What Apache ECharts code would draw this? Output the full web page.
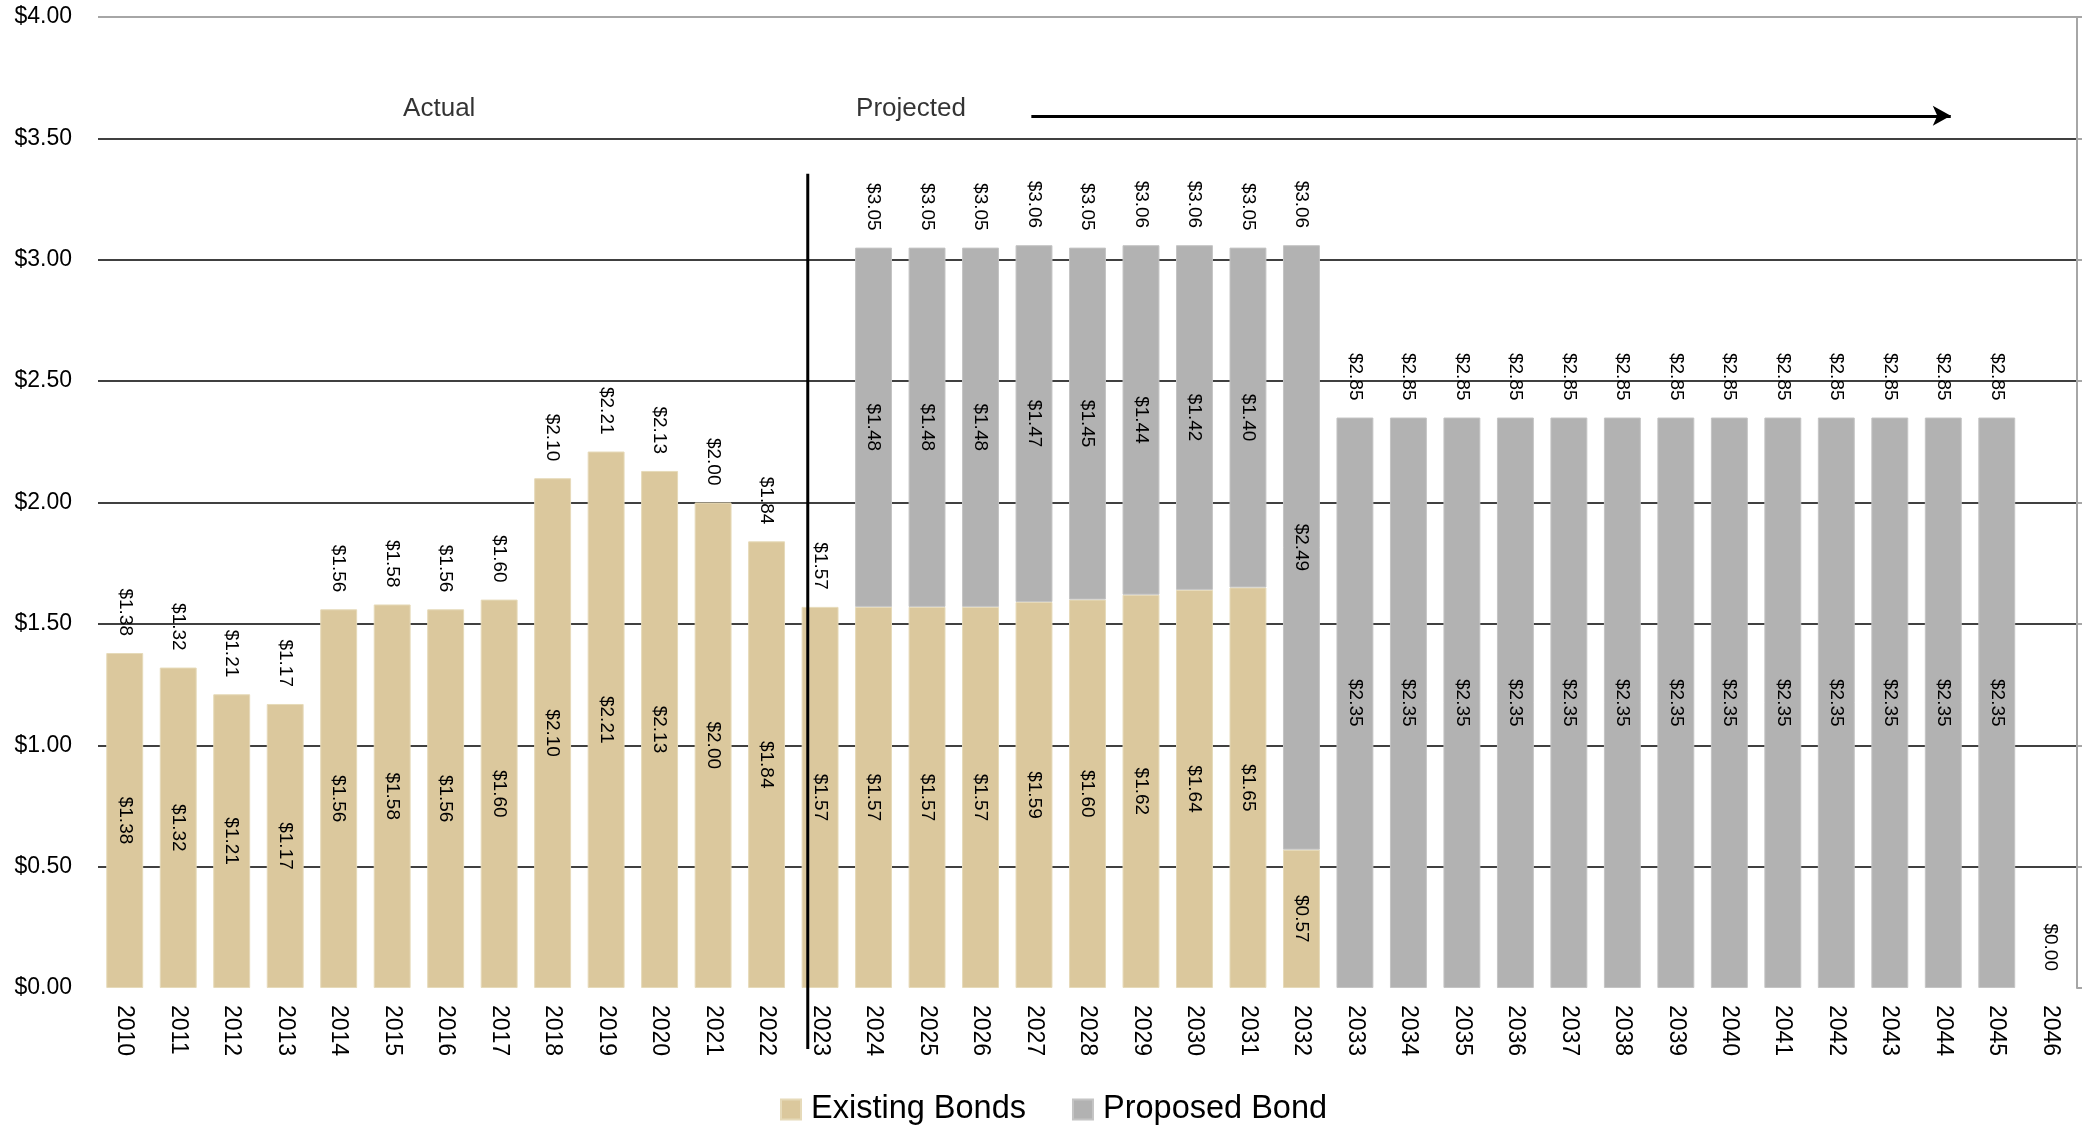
<!DOCTYPE html>
<html>
<head>
<meta charset="utf-8">
<script src="https://cdn.jsdelivr.net/npm/echarts@6/dist/echarts.min.js"></script>
<style>
html,body{margin:0;padding:0;background:#fff;}
#chart{width:2091px;height:1125px;}
</style>
</head>
<body>
<div id="chart"></div>
<script>
var years = ['2010','2011','2012','2013','2014','2015','2016','2017','2018','2019','2020','2021','2022','2023','2024','2025','2026','2027','2028','2029','2030','2031','2032','2033','2034','2035','2036','2037','2038','2039','2040','2041','2042','2043','2044','2045','2046'];
var existingBonds = [1.38,1.32,1.21,1.17,1.56,1.58,1.56,1.60,2.10,2.21,2.13,2.00,1.84,1.57,1.57,1.57,1.57,1.59,1.60,1.62,1.64,1.65,0.57,null,null,null,null,null,null,null,null,null,null,null,null,null,null];
var proposedBond = [null,null,null,null,null,null,null,null,null,null,null,null,null,null,1.48,1.48,1.48,1.47,1.45,1.44,1.42,1.40,2.49,2.35,2.35,2.35,2.35,2.35,2.35,2.35,2.35,2.35,2.35,2.35,2.35,2.35,null];
var totalLabels = [1.38,1.32,1.21,1.17,1.56,1.58,1.56,1.60,2.10,2.21,2.13,2.00,1.84,1.57,3.05,3.05,3.05,3.06,3.05,3.06,3.06,3.05,3.06,2.85,2.85,2.85,2.85,2.85,2.85,2.85,2.85,2.85,2.85,2.85,2.85,2.85,0.00];
var totalBase = years.map(function(){ return 0; });
var annotTexts = ['Actual','Projected'];
var annotX = [6.38, 15.2];
var annotY = [3.62, 3.62];
var dividerLine = [[13.27, 3.354], [13.27, -0.251]];
var arrowFrom = [17.45, 3.593];
var arrowTo = [34.64, 3.593];

var FONT = "'Liberation Sans', Arial, sans-serif";
function money(v){ return '$' + Number(v).toFixed(2); }

var chart = echarts.init(document.getElementById('chart'), null, {renderer:'canvas'});
var option = {
  animation: false,
  backgroundColor: '#ffffff',
  textStyle: {fontFamily: FONT, color: '#000'},
  grid: {left: 98, right: 14, top: 17, bottom: 137, containLabel: false},
  legend: {
    data: ['Existing Bonds', 'Proposed Bond'],
    left: 775, top: 1088,
    icon: 'rect', itemWidth: 20, itemHeight: 20, itemGap: 46,
    textStyle: {fontFamily: FONT, fontSize: 32.5, color: '#000', padding: [0,0,0,5]}
  },
  xAxis: [{
    type: 'category', data: years,
    axisLine: {show: false}, axisTick: {show: false},
    axisLabel: {rotate: -90, fontSize: 23, color: '#000', margin: 17, fontFamily: FONT, interval: 0}
  }, {
    type: 'value', min: 0, max: 37, show: false
  }],
  yAxis: [{
    type: 'value', min: 0, max: 4, interval: 0.5,
    axisLine: {show: false}, axisTick: {show: false},
    axisLabel: {formatter: money, fontSize: 23, color: '#000', margin: 26, fontFamily: FONT},
    splitLine: {show: true, showMinLine: false, lineStyle: {color: ['#404040','#404040','#404040','#404040','#404040','#404040','#404040','#a6a6a6'], width: 2}}
  }, {
    type: 'value', min: 0, max: 4, interval: 0.5, position: 'right',
    axisLine: {show: true, lineStyle: {color: '#a6a6a6', width: 2}},
    axisTick: {show: true, inside: false, length: 5, lineStyle: {color: '#a6a6a6', width: 2}},
    axisLabel: {show: false}, splitLine: {show: false}
  }],
  series: [{
    name: 'Existing Bonds', type: 'bar', stack: 'a', data: existingBonds,
    barCategoryGap: '31%',
    itemStyle: {color: '#DBC89D', borderColor: '#E6DAB9', borderWidth: 1},
    label: {show: true, position: 'inside', rotate: -90, fontSize: 19, color: '#000', fontFamily: FONT,
      formatter: function(p){ return p.value == null ? '' : money(p.value); }}
  }, {
    name: 'Proposed Bond', type: 'bar', stack: 'a', data: proposedBond,
    itemStyle: {color: '#B2B2B2', borderColor: '#C4C4C4', borderWidth: 1},
    label: {show: true, position: 'inside', rotate: -90, fontSize: 19, color: '#000', fontFamily: FONT,
      formatter: function(p){ return p.value == null ? '' : money(p.value); }}
  }, {
    name: 'Total', type: 'bar', stack: 'a', data: totalBase,
    itemStyle: {color: 'rgba(0,0,0,0)'},
    label: {show: true, position: 'top', rotate: -90, align: 'right', verticalAlign: 'middle', distance: 17,
      fontSize: 19, color: '#000', fontFamily: FONT,
      formatter: function(p){ return money(totalLabels[p.dataIndex]); }}
  }, {
    name: 'divider', type: 'line', xAxisIndex: 1, yAxisIndex: 0, data: dividerLine,
    clip: false, symbol: 'none', silent: true,
    lineStyle: {color: '#000', width: 3}
  }, {
    name: 'arrow', type: 'line', xAxisIndex: 1, yAxisIndex: 0, data: [], silent: true,
    markLine: {
      silent: true, symbol: ['none', 'arrow'], symbolSize: [15, 18],
      label: {show: false},
      lineStyle: {color: '#000', width: 3, type: 'solid'},
      data: [[{coord: arrowFrom}, {coord: arrowTo}]]
    }
  }, {
    name: 'annot', type: 'scatter', xAxisIndex: 1, yAxisIndex: 0,
    data: annotX.map(function(x, i){ return [x, annotY[i]]; }),
    symbolSize: 0, silent: true,
    label: {show: true, position: 'inside', fontSize: 26, color: '#000', fontFamily: FONT,
      formatter: function(p){ return annotTexts[p.dataIndex]; }}
  }]
};
chart.setOption(option);
</script>
</body>
</html>
